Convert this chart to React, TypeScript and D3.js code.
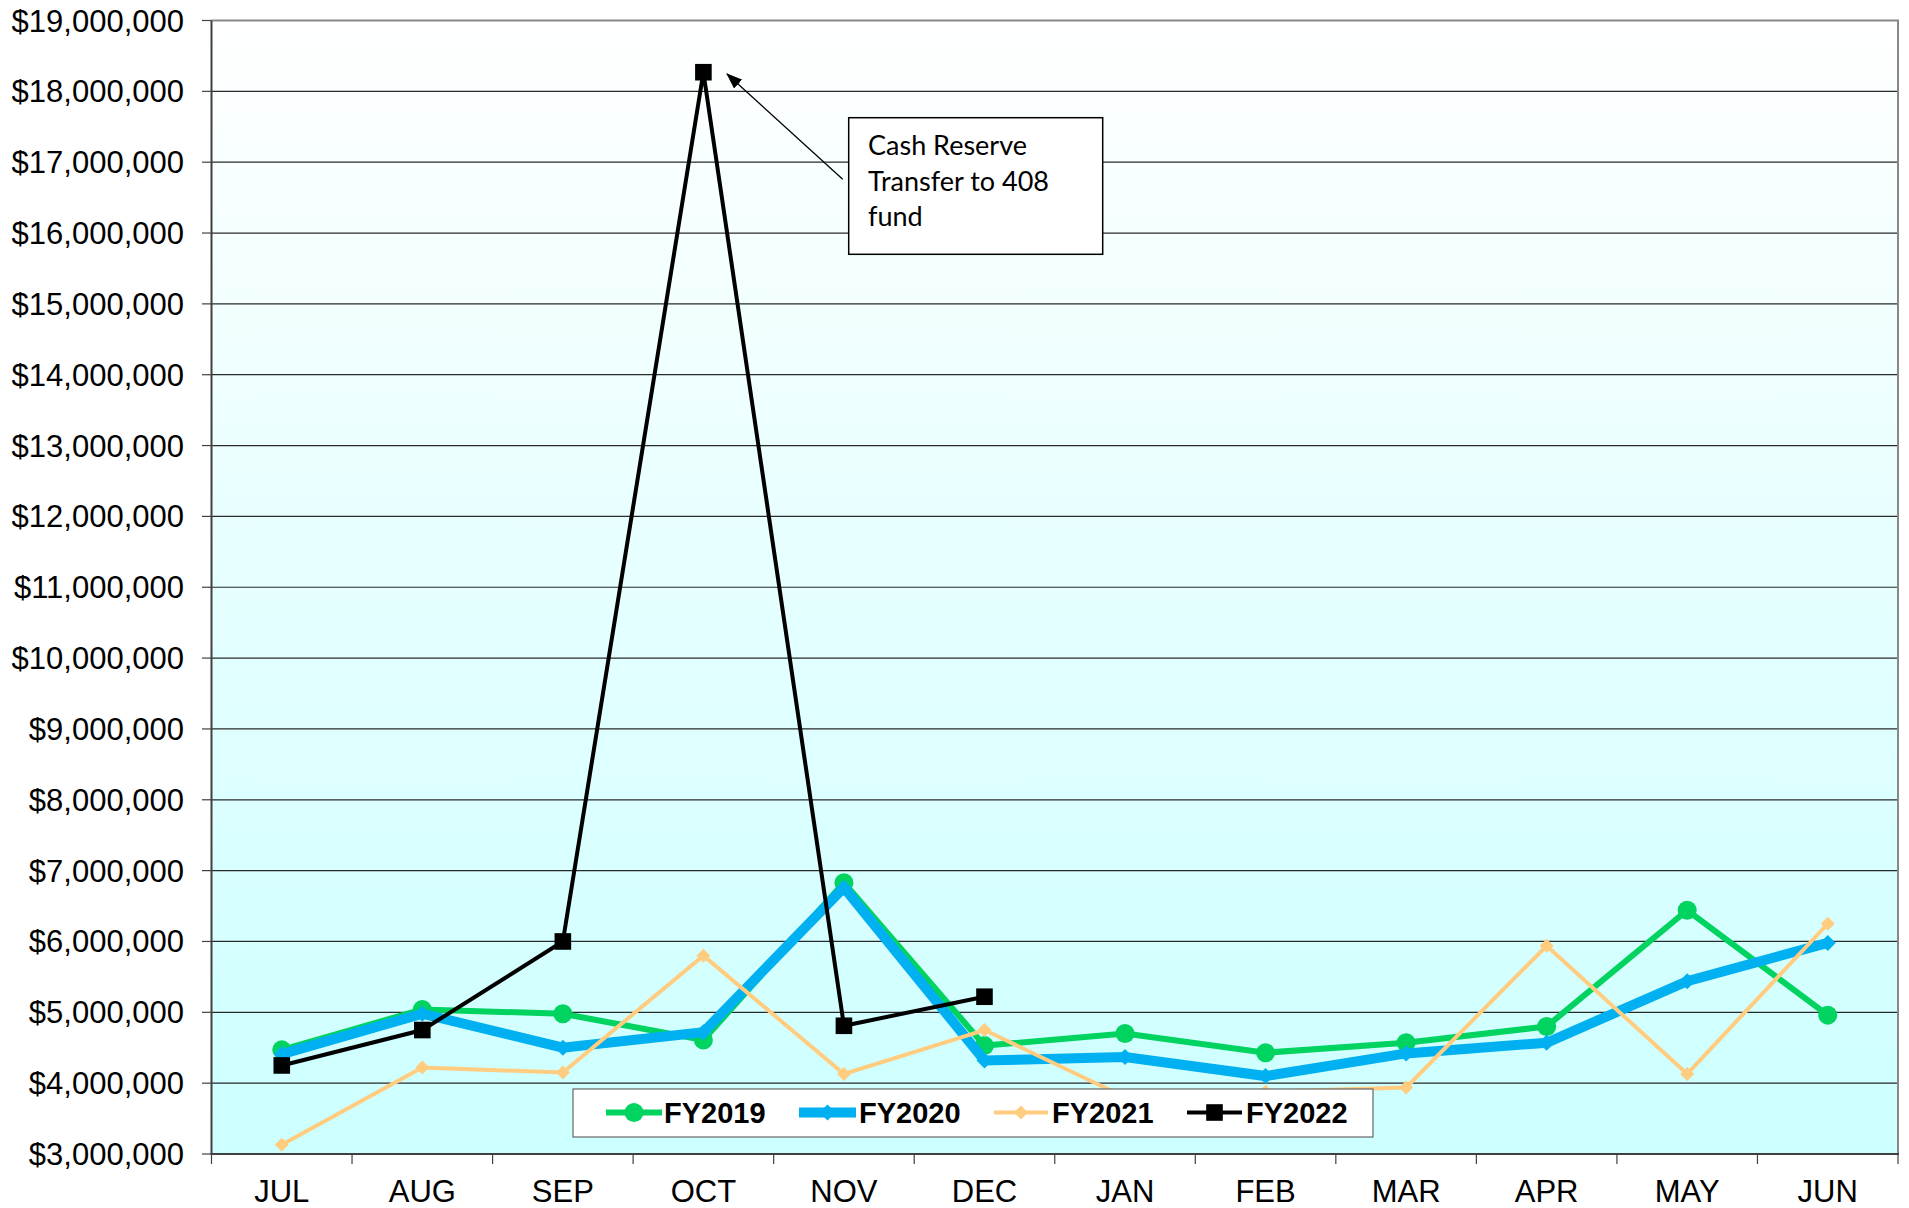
import React from "react";
import * as d3 from "d3";

// Monthly balances, fiscal years July–June (in dollars)
const months = ["JUL", "AUG", "SEP", "OCT", "NOV", "DEC", "JAN", "FEB", "MAR", "APR", "MAY", "JUN"];

const fy2019 = [4470000, 5040000, 4980000, 4610000, 6830000, 4530000, 4700000, 4430000, 4570000, 4800000, 6440000, 4960000];
const fy2020 = [4410000, 4980000, 4500000, 4720000, 6760000, 4320000, 4370000, 4100000, 4420000, 4570000, 5440000, 5980000];
const fy2021 = [3130000, 4220000, 4150000, 5800000, 4130000, 4750000, 3800000, 3880000, 3940000, 5940000, 4130000, 6250000];
const fy2022: (number | null)[] = [4250000, 4750000, 6000000, 18270000, 4810000, 5220000, null, null, null, null, null, null];

const yTicks = d3.range(3000000, 19000001, 1000000);

const seriesNames = ["FY2019", "FY2020", "FY2021", "FY2022"];

const W = 1909;
const H = 1208;
const plot = { left: 211.5, right: 1898, top: 20.5, bottom: 1154 };

const GREEN = "#00d35f";
const BLUE = "#00b0f0";
const PEACH = "#ffcc80";
const BLACK = "#000000";

const x = d3.scaleBand<string>().domain(months).range([plot.left, plot.right]).padding(0);
const cx = (m: string) => (x(m) as number) + x.bandwidth() / 2;
const y = d3.scaleLinear().domain([3000000, 19000000]).range([plot.bottom, plot.top]);
const fmt = d3.format("$,.0f");

type Pt = { m: string; v: number | null };
const toPts = (vals: (number | null)[]): Pt[] => months.map((m, i) => ({ m, v: vals[i] }));

const line = d3
  .line<Pt>()
  .defined((d) => d.v !== null)
  .x((d) => cx(d.m))
  .y((d) => y(d.v as number));

const diamond = (px: number, py: number, r: number) =>
  `M${px},${py - r}L${px + r},${py}L${px},${py + r}L${px - r},${py}Z`;

type Marker = "circle" | "diamondL" | "diamondS" | "square";

const seriesDefs: { name: string; vals: (number | null)[]; color: string; width: number; marker: Marker }[] = [
  { name: seriesNames[0], vals: fy2019, color: GREEN, width: 6, marker: "circle" },
  { name: seriesNames[1], vals: fy2020, color: BLUE, width: 10, marker: "diamondL" },
  { name: seriesNames[2], vals: fy2021, color: PEACH, width: 4, marker: "diamondS" },
  { name: seriesNames[3], vals: fy2022, color: BLACK, width: 4, marker: "square" },
];

function drawMarker(kind: Marker, px: number, py: number, color: string, key: string) {
  if (kind === "circle") return <circle key={key} cx={px} cy={py} r={9.5} fill={color} />;
  if (kind === "diamondL") return <path key={key} d={diamond(px, py, 8)} fill={color} />;
  if (kind === "diamondS") return <path key={key} d={diamond(px, py, 7)} fill={color} />;
  return <rect key={key} x={px - 8.3} y={py - 8.3} width={16.6} height={16.6} fill={color} />;
}

// Legend entry geometry: line start, line end, text start
const legendItems = [
  { x0: 606, x1: 662, tx: 664 },
  { x0: 799, x1: 856, tx: 859 },
  { x0: 994, x1: 1048, tx: 1052 },
  { x0: 1187, x1: 1242, tx: 1246 },
];

export default function App() {
  const boundaries = months.map((m) => x(m) as number).concat([plot.right]);
  return (
    <svg
      width={W}
      height={H}
      style={{ position: "absolute", left: 0, top: 0, background: "#ffffff" }}
      fontFamily="'Liberation Sans', Arial, sans-serif"
    >
      <defs>
        <linearGradient id="plotBg" x1="0" y1="0" x2="0" y2="1">
          <stop offset="0" stopColor="#ffffff" />
          <stop offset="1" stopColor="#ccffff" />
        </linearGradient>
        <marker id="arrowHead" markerWidth="16" markerHeight="12" refX="15" refY="6" orient="auto" markerUnits="userSpaceOnUse">
          <path d="M0,0L16,6L0,12Z" fill="#000" />
        </marker>
      </defs>

      {/* plot area */}
      <rect x={plot.left} y={plot.top} width={plot.right - plot.left} height={plot.bottom - plot.top} fill="url(#plotBg)" />

      {/* horizontal gridlines */}
      {yTicks
        .filter((t) => t > 3000000 && t < 19000000)
        .map((t) => (
          <line key={t} x1={plot.left} x2={plot.right} y1={y(t)} y2={y(t)} stroke="#2a2a2a" strokeWidth={1.2} />
        ))}

      {/* frame: top and right in gray */}
      <line x1={plot.left} x2={plot.right + 1} y1={plot.top} y2={plot.top} stroke="#888888" strokeWidth={2} />
      <line x1={plot.right} x2={plot.right} y1={plot.top} y2={plot.bottom} stroke="#888888" strokeWidth={2} />

      {/* y axis */}
      <line x1={plot.left} x2={plot.left} y1={plot.top} y2={plot.bottom} stroke="#404040" strokeWidth={2} />
      {yTicks.map((t) => (
        <g key={t}>
          <line x1={202} x2={plot.left} y1={y(t)} y2={y(t)} stroke="#404040" strokeWidth={1.2} />
          <text x={184} y={y(t) + 11} textAnchor="end" fontSize={31} fill="#000">
            {fmt(t)}
          </text>
        </g>
      ))}

      {/* x axis */}
      <line x1={plot.left - 1} x2={plot.right + 1} y1={plot.bottom} y2={plot.bottom} stroke="#404040" strokeWidth={2} />
      {boundaries.map((b, i) => (
        <line key={i} x1={b} x2={b} y1={plot.bottom} y2={plot.bottom + 10} stroke="#404040" strokeWidth={1.2} />
      ))}
      {months.map((m) => (
        <text key={m} x={cx(m)} y={1201.5} textAnchor="middle" fontSize={31} fill="#000">
          {m}
        </text>
      ))}

      {/* series */}
      {seriesDefs.map((s) => {
        const pts = toPts(s.vals);
        return (
          <g key={s.name}>
            <path d={line(pts) || ""} fill="none" stroke={s.color} strokeWidth={s.width} strokeLinejoin="miter" />
            {pts
              .filter((p) => p.v !== null)
              .map((p) => drawMarker(s.marker, cx(p.m), y(p.v as number), s.color, s.name + p.m))}
          </g>
        );
      })}

      {/* legend */}
      <rect x={573} y={1089} width={800} height={48} fill="#ffffff" stroke="#666666" strokeWidth={1.2} />
      {seriesDefs.map((s, i) => {
        const it = legendItems[i];
        const ly = 1112.5;
        return (
          <g key={s.name}>
            <line x1={it.x0} x2={it.x1} y1={ly} y2={ly} stroke={s.color} strokeWidth={s.width} />
            {drawMarker(s.marker, (it.x0 + it.x1) / 2, ly, s.color, "lg" + s.name)}
            <text x={it.tx} y={1122.7} fontSize={29} fontWeight="bold" fill="#000">
              {s.name}
            </text>
          </g>
        );
      })}

      {/* annotation for the October spike */}
      <line x1={842.7} y1={179.3} x2={727} y2={74} stroke="#000" strokeWidth={1.3} markerEnd="url(#arrowHead)" />
      <rect x={848.7} y={117.7} width={254} height={136.6} fill="#ffffff" stroke="#000" strokeWidth={1.5} />
      <g fontFamily="Lato, 'Open Sans', sans-serif" fontSize={27} fill="#000">
        <text x={868} y={155}>Cash Reserve</text>
        <text x={868} y={190.7}>Transfer to 408</text>
        <text x={868} y={226}>fund</text>
      </g>
    </svg>
  );
}
